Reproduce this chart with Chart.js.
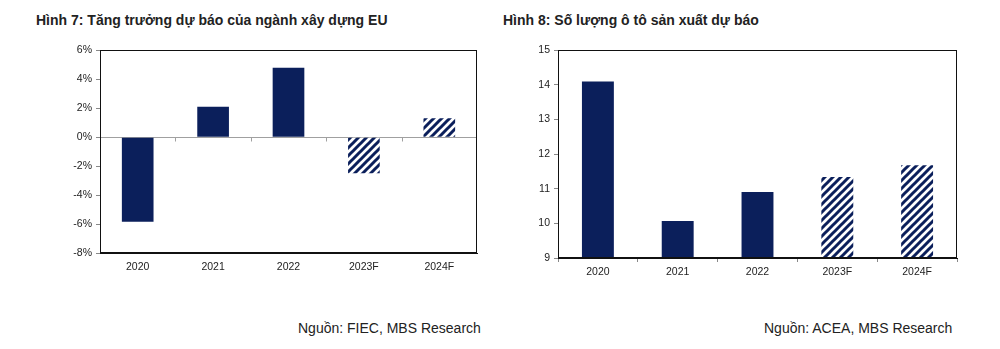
<!DOCTYPE html>
<html>
<head>
<meta charset="utf-8">
<script src="https://cdn.jsdelivr.net/npm/chart.js@4.4.1/dist/chart.umd.min.js"></script>
<style>
  body { margin: 0; background: #fff; font-family: "Liberation Sans", Arial, sans-serif; }
  #wrap { position: relative; width: 1000px; height: 349px; overflow: hidden; }
  .title { position: absolute; top: 12px; font-weight: bold; font-size: 14px; color: #222; white-space: nowrap; }
  .src { position: absolute; top: 320px; font-size: 14px; color: #222; white-space: nowrap; }
  .box { position: absolute; top: 40px; height: 240px; }
</style>
</head>
<body>
<div id="wrap">
  <div class="title" style="left:36px">Hình 7: Tăng trưởng dự báo của ngành xây dựng EU</div>
  <div class="title" style="left:503px">Hình 8: Số lượng ô tô sản xuất dự báo</div>
  <div class="box" style="left:0;width:490px"><canvas id="chartEU"></canvas></div>
  <div class="box" style="left:490px;width:480px"><canvas id="chartCar"></canvas></div>
  <div class="src" style="left:298px">Nguồn: FIEC, MBS Research</div>
  <div class="src" style="left:764px">Nguồn: ACEA, MBS Research</div>
</div>
<script>
/* =========================
   DATA
========================= */
const years = ["2020", "2021", "2022", "2023F", "2024F"];
const growthEU = [-5.85, 2.1, 4.8, -2.5, 1.3];   // %
const carOutput = [14.1, 10.07, 10.91, 11.34, 11.68];
const forecast = [false, false, false, true, true];

const NAVY = "#0b1f5b";

/* hatch pattern for forecast bars */
function makeHatch() {
  const c = document.createElement("canvas");
  c.width = 8; c.height = 8;
  const g = c.getContext("2d");
  g.fillStyle = "#fff";
  g.fillRect(0, 0, 8, 8);
  g.strokeStyle = NAVY;
  g.lineWidth = 3;
  g.beginPath();
  g.moveTo(-2, 10); g.lineTo(10, -2);
  g.moveTo(-6, 6); g.lineTo(6, -6);
  g.moveTo(2, 14); g.lineTo(14, 2);
  g.stroke();
  return g.createPattern(c, "repeat");
}
const hatch = makeHatch();
const barColors = forecast.map(f => (f ? hatch : NAVY));

Chart.defaults.font.family = "'Liberation Sans', Arial, sans-serif";
Chart.defaults.font.size = 10.5;
Chart.defaults.color = "#222";

/* =========================
   PLUGINS
========================= */
const frame = {
  id: "frame",
  afterDatasetsDraw(chart) {
    const { ctx, chartArea: a } = chart;
    ctx.save();
    ctx.strokeStyle = "#111";
    ctx.lineWidth = 1;
    ctx.strokeRect(Math.round(a.left) + 0.5, Math.round(a.top) + 0.5,
      Math.round(a.right - a.left) - 1, Math.round(a.bottom - a.top) - 1);
    ctx.restore();
  }
};

const zeroLine = {
  id: "zeroLine",
  beforeDatasetsDraw(chart) {
    const { ctx, chartArea: a, scales } = chart;
    const y = Math.round(scales.y.getPixelForValue(0)) + 0.5;
    ctx.save();
    ctx.strokeStyle = "#a0a0a0";
    ctx.lineWidth = 1;
    ctx.beginPath();
    ctx.moveTo(a.left, y); ctx.lineTo(a.right, y);
    const n = years.length;
    const step = (a.right - a.left) / n;
    for (let i = 1; i < n; i++) {
      const x = Math.round(scales.x.getPixelForValue(i) - step / 2) + 0.5;
      ctx.moveTo(x, y); ctx.lineTo(x, y + 4);
    }
    ctx.stroke();
    ctx.restore();
  }
};

function baseOptions(yMin, yMax, yStep, fmt, yW, xH, pad, xTicks) {
  return {
    responsive: true,
    maintainAspectRatio: false,
    animation: false,
    layout: { padding: pad },
    plugins: { legend: { display: false }, tooltip: { enabled: false } },
    scales: {
      x: {
        afterFit(s) { s.height = xH; },
        grid: {
          display: xTicks, drawOnChartArea: false, offset: true,
          tickLength: 4, color: "#888"
        },
        border: { color: "#111" },
        ticks: { padding: 4, maxRotation: 0 }
      },
      y: {
        min: yMin, max: yMax,
        afterFit(s) { s.width = yW; },
        grid: { drawOnChartArea: false, tickLength: 4, color: "#888" },
        border: { color: "#111" },
        ticks: { stepSize: yStep, padding: 4, callback: fmt }
      }
    }
  };
}

/* =========================
   CHARTS
========================= */
new Chart(document.getElementById("chartEU"), {
  type: "bar",
  data: {
    labels: years,
    datasets: [{
      data: growthEU,
      backgroundColor: barColors,
      borderWidth: 0,
      categoryPercentage: 1,
      barPercentage: 0.42
    }]
  },
  options: baseOptions(-8, 6, 2, v => v + "%", 100, 27,
    { top: 9, right: 13, left: 0, bottom: 0 }, false),
  plugins: [zeroLine, frame]
});

new Chart(document.getElementById("chartCar"), {
  type: "bar",
  data: {
    labels: years,
    datasets: [{
      data: carOutput,
      backgroundColor: barColors,
      borderWidth: 0,
      categoryPercentage: 1,
      barPercentage: 0.4
    }]
  },
  options: baseOptions(9, 15, 1, v => v, 68, 22,
    { top: 9, right: 13, left: 0, bottom: 0 }, true),
  plugins: [frame]
});
</script>
</body>
</html>
